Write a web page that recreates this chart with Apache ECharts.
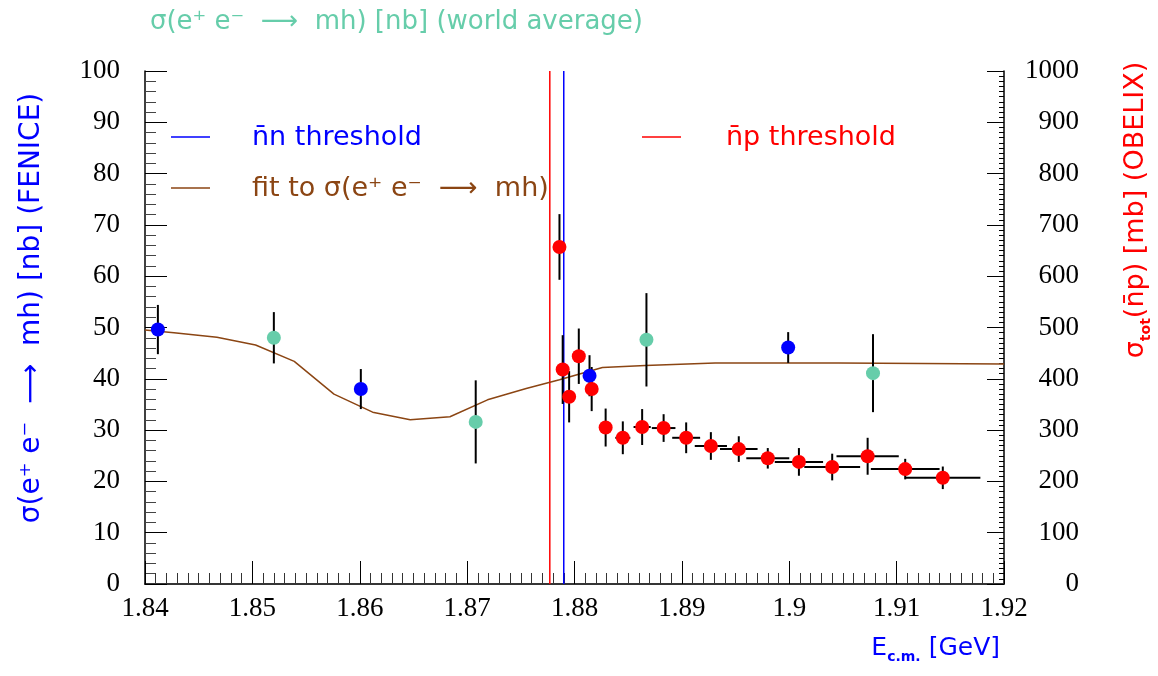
<!DOCTYPE html>
<html>
<head>
<meta charset="utf-8">
<script src="https://cdn.jsdelivr.net/npm/echarts@6/dist/echarts.min.js"></script>
<style>html,body{margin:0;padding:0;background:#fff}#c{width:1158px;height:676px}</style>
</head>
<body>
<div id="c"></div>
<script>
// FENICE (blue) sigma(e+e- -> mh) [nb]
const fenX = [1.8412, 1.8601, 1.8814, 1.8999];
const fenY = [49.6, 38.0, 40.6, 46.1];
const fenErr = [4.8, 3.9, 4.0, 3.0];
// World average (green) [nb]
const wavX = [1.8520, 1.8708, 1.8867, 1.9078];
const wavY = [48.0, 31.6, 47.6, 41.1];
const wavErr = [5.0, 8.1, 9.1, 7.6];
// OBELIX (red) sigma_tot(nbar p) [mb]
const obeX = [1.8786, 1.8789, 1.8795, 1.8804, 1.8816, 1.8829, 1.8845, 1.8863, 1.8883, 1.8904, 1.8927, 1.8953, 1.8980, 1.9009, 1.9040, 1.9073, 1.9108, 1.9143];
const obeY = [657, 418, 365, 444, 380, 305, 285, 306, 304, 285, 269, 263, 245, 238, 228, 249, 224, 207];
const obeErr = [64, 67, 50, 54, 43, 37, 32, 35, 27, 30, 27, 25, 20, 27, 26, 36, 20, 22];
const obeXErr = [0, 0, 0, 0, 0, 0.0005, 0.0007, 0.0008, 0.0011, 0.0013, 0.0015, 0.00175, 0.002, 0.00225, 0.0026, 0.0029, 0.0032, 0.0035];
// Fit to sigma(e+e- -> mh)
const fitX = [1.8400, 1.8427, 1.8467, 1.8503, 1.8539, 1.8576, 1.8612, 1.8647, 1.8684, 1.8719, 1.8755, 1.8786, 1.8826, 1.8866, 1.8931, 1.9046, 1.9200];
const fitY = [49.5, 49.0, 48.1, 46.6, 43.4, 37.0, 33.5, 32.0, 32.6, 35.9, 38.1, 39.8, 42.2, 42.6, 43.1, 43.1, 42.9];
// thresholds (GeV)
const npThreshold = 1.8777;
const nnThreshold = 1.8790;
// axes
const xMin = 1.84, xMax = 1.92, xStep = 0.01;
const yLMin = 0, yLMax = 100, yLStep = 10;
const yRMin = 0, yRMax = 1000, yRStep = 100;

const BLUE = '#0000ff', RED = '#ff0000', GREEN = '#66cdaa', BROWN = '#8b4513';
const SANS = 'DejaVu Sans';
const SERIF = 'Liberation Serif';
const ARROW = '⟶';

function errBars(xs, ys, es, xes, yAxisIndex, name) {
  return {
    type: 'custom', name: name, xAxisIndex: 0, yAxisIndex: yAxisIndex, z: 3,
    data: xs.map((x, i) => [x, ys[i], es[i], xes ? xes[i] : 0]),
    renderItem: function (params, api) {
      const x = api.value(0), y = api.value(1), e = api.value(2), xe = api.value(3);
      const top = api.coord([x, y + e]);
      const bot = api.coord([x, y - e]);
      const children = [{
        type: 'line', shape: { x1: top[0], y1: top[1], x2: bot[0], y2: bot[1] },
        style: { stroke: '#000', lineWidth: 2 }
      }];
      if (xe > 0) {
        const l = api.coord([x - xe, y]);
        const r = api.coord([x + xe, y]);
        children.push({
          type: 'line', shape: { x1: l[0], y1: l[1], x2: r[0], y2: r[1] },
          style: { stroke: '#000', lineWidth: 2 }
        });
      }
      return { type: 'group', children: children };
    }
  };
}

function vline(x, color, name) {
  return {
    type: 'line', name: name, xAxisIndex: 0, yAxisIndex: 0, z: 2,
    data: [[x, yLMin], [x, yLMax]], symbol: 'none',
    lineStyle: { color: color, width: 1.5 }
  };
}

const chart = echarts.init(document.getElementById('c'));
chart.setOption({
  animation: false,
  backgroundColor: '#fff',
  grid: { left: 145, right: 154, top: 71, bottom: 92 },
  xAxis: [{
    type: 'value', min: xMin, max: xMax, interval: xStep, position: 'bottom',
    axisLine: { lineStyle: { color: '#000', width: 1.5 } },
    axisTick: { inside: true, length: 23, lineStyle: { color: '#000', width: 1 } },
    minorTick: { show: true, splitNumber: 10, length: 11, lineStyle: { color: '#333', width: 1 } },
    splitLine: { show: false },
    axisLabel: { fontFamily: SERIF, fontSize: 27, color: '#000', margin: 11 }
  }, {
    type: 'value', min: xMin, max: xMax, position: 'top',
    axisLine: { lineStyle: { color: '#333', width: 1.5 } },
    axisTick: { show: false }, axisLabel: { show: false }, splitLine: { show: false }
  }],
  yAxis: [{
    type: 'value', min: yLMin, max: yLMax, interval: yLStep, position: 'left',
    axisLine: { show: true, lineStyle: { color: '#000', width: 1.5 } },
    axisTick: { inside: true, length: 22, lineStyle: { color: '#000', width: 1 } },
    minorTick: { show: true, splitNumber: 5, length: 11, lineStyle: { color: '#444', width: 1 } },
    splitLine: { show: false },
    axisLabel: { fontFamily: SERIF, fontSize: 27, color: '#000', margin: 25 }
  }, {
    type: 'value', min: yRMin, max: yRMax, interval: yRStep, position: 'right',
    axisLine: { show: true, lineStyle: { color: '#000', width: 1.5 } },
    axisTick: { inside: true, length: 17, lineStyle: { color: '#000', width: 1 } },
    minorTick: { show: true, splitNumber: 10, length: 5, lineStyle: { color: '#000', width: 1 } },
    splitLine: { show: false },
    axisLabel: { fontFamily: SERIF, fontSize: 27, color: '#000', margin: 75, align: 'right',
      formatter: function (v) { return String(v); } }
  }],
  series: [
    vline(npThreshold, RED, 'np threshold'),
    vline(nnThreshold, BLUE, 'nn threshold'),
    {
      type: 'line', name: 'fit', xAxisIndex: 0, yAxisIndex: 0, z: 2,
      data: fitX.map((x, i) => [x, fitY[i]]),
      showSymbol: false, symbol: 'none',
      lineStyle: { color: BROWN, width: 1.5 }
    },
    errBars(fenX, fenY, fenErr, null, 0, 'fenErr'),
    errBars(wavX, wavY, wavErr, null, 0, 'wavErr'),
    errBars(obeX, obeY, obeErr, obeXErr, 1, 'obeErr'),
    {
      type: 'scatter', name: 'FENICE', xAxisIndex: 0, yAxisIndex: 0, z: 5,
      data: fenX.map((x, i) => [x, fenY[i]]), symbol: 'circle', symbolSize: 14,
      itemStyle: { color: BLUE, opacity: 1 }
    },
    {
      type: 'scatter', name: 'world', xAxisIndex: 0, yAxisIndex: 0, z: 5,
      data: wavX.map((x, i) => [x, wavY[i]]), symbol: 'circle', symbolSize: 14,
      itemStyle: { color: GREEN, opacity: 1 }
    },
    {
      type: 'scatter', name: 'OBELIX', xAxisIndex: 0, yAxisIndex: 1, z: 5,
      data: obeX.map((x, i) => [x, obeY[i]]), symbol: 'circle', symbolSize: 14,
      itemStyle: { color: RED, opacity: 1 }
    }
  ],
  graphic: [
    // top title
    { type: 'text', x: 150, y: 22, style: {
      text: 'σ(e⁺ e⁻  ' + ARROW + '  mh) [nb] (world average)', fill: GREEN, font: '26px "' + SANS + '"',
      verticalAlign: 'middle' } },
    // left axis title
    { type: 'text', x: 32, y: 308, rotation: Math.PI / 2, style: {
      text: 'σ(e⁺ e⁻  ' + ARROW + '  mh) [nb] (FENICE)', fill: BLUE, font: '28px "' + SANS + '"',
      align: 'center', verticalAlign: 'middle' } },
    // right axis title
    { type: 'text', x: 1136, y: 210, rotation: Math.PI / 2, style: {
      text: '{m|σ}{s|tot}{m|(n̄p) [mb] (OBELIX)}', fill: RED,
      align: 'center', verticalAlign: 'middle',
      rich: {
        m: { fontFamily: SANS, fontSize: 27, fill: RED, lineHeight: 34 },
        s: { fontFamily: SANS, fontSize: 14, fill: RED, lineHeight: 18, verticalAlign: 'bottom', fontWeight: 'bold' }
      } } },
    // x axis title
    { type: 'text', right: 158, top: 636, style: {
      text: '{m|E}{s|c.m.}{m| [GeV]}', fill: BLUE,
      rich: {
        m: { fontFamily: SANS, fontSize: 25, fill: BLUE, lineHeight: 32 },
        s: { fontFamily: SANS, fontSize: 14, fill: BLUE, lineHeight: 16, verticalAlign: 'bottom', fontWeight: 'bold' }
      } } },
    // legend
    { type: 'line', shape: { x1: 171, y1: 137, x2: 210, y2: 137 }, style: { stroke: BLUE, lineWidth: 1.5 } },
    { type: 'text', x: 252, y: 138, style: { text: 'n̄n threshold', fill: BLUE, font: '27px "' + SANS + '"', verticalAlign: 'middle' } },
    { type: 'line', shape: { x1: 171, y1: 188, x2: 210, y2: 188 }, style: { stroke: BROWN, lineWidth: 1.5 } },
    { type: 'text', x: 252, y: 189, style: { text: 'fit to σ(e⁺ e⁻  ' + ARROW + '  mh)', fill: BROWN, font: '27px "' + SANS + '"', verticalAlign: 'middle' } },
    { type: 'line', shape: { x1: 642, y1: 137, x2: 681, y2: 137 }, style: { stroke: RED, lineWidth: 1.5 } },
    { type: 'text', x: 726, y: 138, style: { text: 'n̄p threshold', fill: RED, font: '27px "' + SANS + '"', verticalAlign: 'middle' } }
  ]
});
</script>
</body>
</html>
